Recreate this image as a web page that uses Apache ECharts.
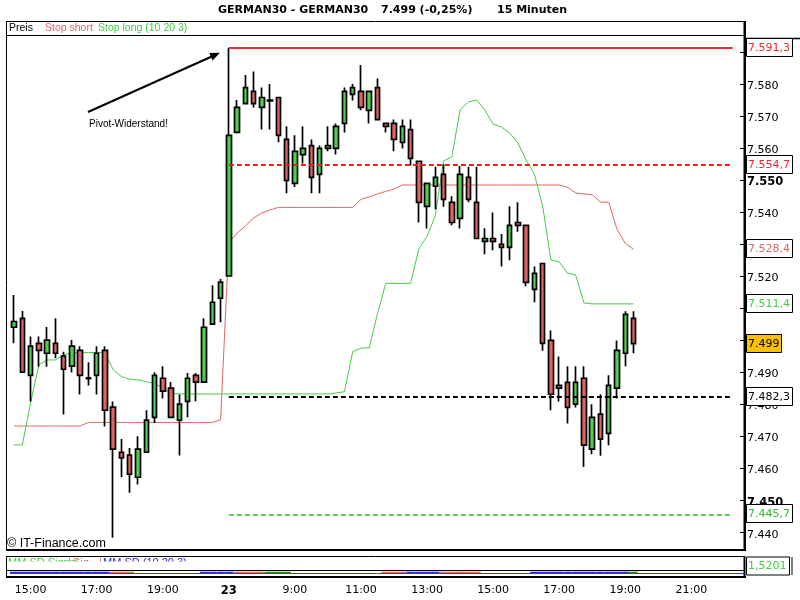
<!DOCTYPE html>
<html><head><meta charset="utf-8">
<script src="https://cdn.jsdelivr.net/npm/echarts@6/dist/echarts.min.js"></script>
<style>html,body{margin:0;padding:0;background:#fff}#c{width:800px;height:600px}</style>
</head><body><div id="c"></div>
<script>
// ---------- DATA ----------
const day22Times = ['14:30','14:45','15:00','15:15','15:30','15:45','16:00','16:15','16:30','16:45','17:00','17:15','17:30','17:45','18:00','18:15','18:30','18:45','19:00','19:15','19:30','19:45','20:00','20:15','20:30','20:45'];
const day23Times = ['07:00','07:15','07:30','07:45','08:00','08:15','08:30','08:45','09:00','09:15','09:30','09:45','10:00','10:15','10:30','10:45','11:00','11:15','11:30','11:45','12:00','12:15','12:30','12:45','13:00','13:15','13:30','13:45','14:00','14:15','14:30','14:45','15:00','15:15','15:30','15:45','16:00','16:15','16:30','16:45','17:00','17:15','17:30','17:45','18:00','18:15','18:30','18:45','19:00','19:15','19:30','19:45','20:00','20:15','20:30','20:45','21:00','21:15','21:30','21:45','22:00','22:15','22:30'];
const times = day22Times.map(t => '22 ' + t).concat(day23Times.map(t => '23 ' + t));

const xTickCats   = ['22 15:00','22 17:00','22 19:00','23 07:00','23 09:00','23 11:00','23 13:00','23 15:00','23 17:00','23 19:00','23 21:00'];
const xTickLabels = ['15:00','17:00','19:00','23','9:00','11:00','13:00','15:00','17:00','19:00','21:00'];
const yTicks = [7440,7450,7460,7470,7480,7490,7500,7510,7520,7530,7540,7550,7560,7570,7580,7590];
const yBoldTicks = [7450,7550];

const open  = [7504.1,7506.9,7489.1,7499.1,7496.0,7499.1,7495.1,7492.0,7496.9,7488.3,7489.1,7496.9,7479.2,7465.1,7464.2,7457.3,7465.1,7476.0,7488.2,7485.1,7475.1,7481.0,7489.1,7487.0,7505.1,7513.2,
               7520.1,7564.9,7573.9,7577.7,7572.7,7575.0,7575.8,7562.7,7549.0,7558.0,7560.8,7551.8,7559.9,7559.9,7567.7,7576.8,7577.7,7571.8,7578.9,7567.7,7567.7,7561.8,7565.8,7555.9,
               7541.8,7548.1,7551.8,7543.1,7538.1,7550.9,7543.1,7530.9,7531.8,7530.0,7529.0,7536.8,7535.9,7515.9,7524.0,7500.0,7485.1,7486.9,7480.1,7488.2,7466.1,7477.0,7471.0,7485.1,7496.0,7506.9];
const close = [7505.9,7490.1,7498.2,7496.9,7500.1,7496.0,7491.0,7498.2,7489.1,7488.1,7496.0,7478.2,7466.1,7463.3,7458.3,7466.1,7475.1,7489.1,7484.2,7476.0,7480.1,7488.2,7487.0,7504.1,7511.9,7518.2,
               7564.0,7572.7,7578.9,7573.9,7575.8,7574.7,7564.0,7549.9,7559.0,7559.9,7550.9,7559.9,7560.8,7566.8,7577.7,7578.9,7572.7,7577.7,7568.9,7566.8,7562.7,7566.8,7556.8,7543.1,
               7549.0,7550.9,7544.0,7536.8,7551.8,7544.0,7531.8,7531.8,7530.9,7529.0,7535.9,7535.9,7518.1,7520.9,7499.1,7483.2,7486.0,7479.1,7486.9,7467.3,7476.0,7469.2,7486.0,7496.9,7508.1,7499.0];
const low   = [7499.1,7489.8,7480.9,7491.8,7491.8,7494.4,7476.9,7490.0,7483.1,7485.9,7483.1,7473.1,7438.4,7457.3,7452.5,7455.0,7465.1,7474.2,7481.9,7476.0,7464.1,7476.0,7481.0,7487.0,7505.1,7505.7,
               7520.1,7564.9,7573.9,7572.7,7565.8,7565.8,7561.8,7545.9,7547.9,7555.2,7545.9,7545.9,7559.0,7558.0,7564.9,7574.9,7571.8,7567.7,7568.9,7564.9,7559.0,7559.9,7554.6,7536.8,
               7534.9,7540.9,7541.7,7535.9,7534.9,7543.1,7531.8,7526.9,7528.1,7523.1,7525.0,7533.9,7516.9,7511.9,7496.8,7478.2,7480.9,7474.1,7479.1,7460.5,7464.5,7464.0,7467.3,7481.9,7491.9,7496.0];
const high  = [7514.2,7509.2,7501.2,7501.2,7504.2,7506.9,7496.5,7500.1,7498.2,7493.2,7498.2,7498.2,7480.9,7469.2,7466.4,7470.1,7478.2,7490.1,7491.9,7487.0,7483.1,7489.8,7489.8,7506.9,7517.2,7519.2,
               7591.3,7575.0,7582.8,7583.9,7578.9,7580.0,7575.8,7566.8,7564.0,7566.8,7562.7,7560.8,7566.8,7567.7,7578.9,7580.0,7585.9,7577.7,7581.7,7567.7,7568.9,7568.9,7568.9,7556.0,
               7549.0,7554.2,7555.0,7545.0,7554.4,7554.2,7554.2,7535.0,7539.9,7533.2,7541.9,7543.1,7535.9,7523.1,7524.0,7503.1,7495.0,7491.9,7491.9,7491.9,7480.1,7483.2,7489.1,7500.0,7509.1,7509.1];

const stopShort = [7473.3,7473.3,7473.3,7473.3,7473.3,7473.3,7473.3,7473.3,7473.3,7474.4,7474.4,7474.4,7474.4,7474.4,7474.4,7474.4,7474.4,7474.4,7474.4,7474.4,7474.4,7474.4,7474.4,7474.4,7474.4,7475.2,
                   7530.4,7533.5,7535.7,7538.2,7539.8,7540.7,7541.5,7541.5,7541.5,7541.5,7541.5,7541.5,7541.5,7541.5,7541.5,7541.5,7544.0,7544.8,7545.7,7546.5,7547.2,7548.5,7548.5,7548.5,
                   7548.5,7548.5,7548.5,7548.5,7548.5,7548.5,7548.5,7548.5,7548.5,7548.5,7548.5,7548.5,7548.5,7548.5,7548.5,7548.5,7548.5,7547.8,7546.0,7545.7,7545.5,7543.2,7543.1,7534.7,7530.3,7528.4];
const stopLong  = [7467.4,7467.4,7480.6,7492.4,7493.9,7493.9,7495.5,7496.2,7496.2,7496.2,7496.2,7496.2,7490.8,7488.7,7487.9,7487.7,7487.1,7486.6,7485.1,7483.5,7483.3,7483.3,7483.3,7483.3,7483.3,7483.3,
                   7483.3,7483.3,7483.3,7483.3,7483.3,7483.3,7483.3,7483.3,7483.3,7483.3,7483.3,7483.3,7483.3,7483.6,7484.0,7496.5,7497.6,7497.7,7508.4,7517.8,7517.8,7517.8,7517.8,7528.5,
                   7532.5,7538.9,7556.0,7557.3,7571.9,7574.4,7575.0,7571.9,7567.5,7566.6,7564.7,7561.6,7556.3,7551.9,7541.9,7525.1,7524.5,7521.0,7520.4,7511.7,7511.4,7511.4,7511.4,7511.4,7511.4,7511.4];

// MM.SD signal state per candle: b = blue, r = red, g = green, null = none
const sdState = ['b','b','b','b','b','b','b','b','b','b','b','b','r','r','r',null,null,null,null,null,null,null,null,'b','b','b',
                 'b','r','r','r','r','g','g','g',null,null,null,null,null,null,null,null,null,null,null,'r','r','r','b','b',
                 'b','b','r','r','r','r','r',null,null,null,null,null,null,'b','b','b','b','b','b','b','b','b','b','b','b','g'];
const sdValue = 1.5201;

const levelValues = [7591.3, 7554.7, 7482.3, 7445.7];
const levelStartCat = '23 07:00';
const levelEndCat = '23 22:15';
const lastPrice = 7499;

// ---------- STYLE ----------
const F = 'DejaVu Sans';
const A = 'Liberation Sans';
const GREEN = '#4fcf4f', RED = '#e06464';
const levelStyles = [
  {color:'#ec2a2a', type:'solid', width:2, label:'#ec2a2a'},
  {color:'#f01c1c', type:[5,3], width:2, label:'#ec2a2a'},
  {color:'#000000', type:[5,3], width:2, label:'#000000'},
  {color:'#2fb52f', type:[5,3], width:1.5, label:'#33bb33'}
];

function fmtDE(v, d) {
  const parts = v.toFixed(d).split('.');
  const i = parts[0];
  return i.slice(0, -3) + '.' + i.slice(-3) + (parts[1] ? ',' + parts[1] : '');
}

const chart = echarts.init(document.getElementById('c'));
const candleData = open.map((o, i) => [o, close[i], low[i], high[i]]);

const option = {
  animation: false,
  backgroundColor: '#fff',
  grid: [
    {left: 10, right: 55, top: 35, bottom: 50},
    {left: 10, right: 55, top: 556, height: 21}
  ],
  xAxis: [
    {type:'category', gridIndex:0, data: times, boundaryGap:true,
     axisLine:{show:false}, axisTick:{show:false}, axisLabel:{show:false}, splitLine:{show:false}},
    {type:'category', gridIndex:1, data: times, boundaryGap:true,
     axisLine:{show:false}, axisTick:{show:false}, splitLine:{show:false},
     axisLabel:{
       show:true, margin:8, fontFamily:F, fontSize:11, color:'#000',
       interval: (idx, val) => xTickCats.indexOf(val) >= 0,
       formatter: (val) => {
         const k = xTickCats.indexOf(val);
         if (k < 0) return '';
         return xTickLabels[k] === '23' ? '{b|23}' : xTickLabels[k];
       },
       rich: {b: {fontFamily:F, fontSize:11.5, fontWeight:'bold', color:'#000'}}
     }}
  ],
  yAxis: [
    {type:'value', gridIndex:0, position:'right', min:7434.6, max:7595.3, scale:true,
     axisLine:{show:false}, splitLine:{show:false},
     axisTick:{show:true, inside:true, length:5, lineStyle:{color:'#000', width:1}, customValues: yTicks},
     axisLabel:{show:true, margin:2, fontFamily:F, fontSize:11, color:'#000', padding:[4,0,0,0],
       customValues: yTicks,
       formatter: v => yBoldTicks.indexOf(Math.round(v)) >= 0 ? '{b|' + fmtDE(v, 0) + '}' : fmtDE(v, 0),
       rich: {b: {fontFamily:F, fontSize:11.5, fontWeight:'bold', color:'#000'}}}
    },
    {type:'value', gridIndex:1, min:-4, max:17, show:false}
  ],
  series: [
    {name:'Stop short', type:'line', xAxisIndex:0, yAxisIndex:0, data: stopShort, symbol:'none', z:1,
     lineStyle:{color:'#e06666', width:1}},
    {name:'Stop long', type:'line', xAxisIndex:0, yAxisIndex:0, data: stopLong, symbol:'none', z:1,
     lineStyle:{color:'#44cc44', width:1}},
    {name:'Preis', type:'candlestick', xAxisIndex:0, yAxisIndex:0, data: candleData, barWidth:5, z:2,
     itemStyle:{color:GREEN, color0:RED, borderColor:'#000', borderColor0:'#000', borderColorDoji:'#000', borderWidth:1.7}},
    {name:'levels', type:'line', xAxisIndex:0, yAxisIndex:0, data: times.map(() => null), symbol:'none', z:5,
     markLine:{silent:true, symbol:['none','none'], label:{show:false}, animation:false,
       data: levelValues.map((v, k) => [
         {coord:[levelStartCat, v], lineStyle:{color:levelStyles[k].color, type:levelStyles[k].type, width:levelStyles[k].width}},
         {coord:[levelEndCat, v]}
       ])}},
    {name:'sdBlue', type:'bar', xAxisIndex:1, yAxisIndex:1, barWidth:'100%', barGap:'-100%', z:2,
     data: sdState.map(s => s === 'b' ? 1.3 : null), itemStyle:{color:'#2a2ad6'},
     markLine:{silent:true, symbol:['none','none'], label:{show:false}, data:[{yAxis:0}], lineStyle:{color:'#3a3ad0', width:1, type:'solid'}}},
    {name:'sdRed', type:'bar', xAxisIndex:1, yAxisIndex:1, barWidth:'100%', barGap:'-100%', z:2,
     data: sdState.map(s => s === 'r' ? 1.3 : null), itemStyle:{color:'#e06666'}},
    {name:'sdGreen', type:'bar', xAxisIndex:1, yAxisIndex:1, barWidth:'100%', barGap:'-100%', z:2,
     data: sdState.map(s => s === 'g' ? 1.3 : null), itemStyle:{color:'#1f8f1f'}}
  ]
};
chart.setOption(option);

// ---------- overlays (positions derived through the axis scale) ----------
const yPix = v => chart.convertToPixel({yAxisIndex:0}, v);
const g = [];
function line(x1, y1, x2, y2, w, c, z) {
  g.push({type:'line', shape:{x1, y1, x2, y2}, style:{stroke:c || '#000', lineWidth:w}, z: z || 60, silent:true});
}
function text(x, y, t, font, fill, z, align, valign) {
  g.push({type:'text', x, y, style:{text:t, font, fill, align: align || 'left', verticalAlign: valign || 'middle'}, z: z || 70, silent:true});
}
// title
text(218, 10, 'GERMAN30 - GERMAN30', 'bold 11px "' + F + '"', '#000');
text(381, 10, fmtDE(lastPrice, 0) + ' (-0,25%)', 'bold 11px "' + F + '"', '#000');
text(497, 10, '15 Minuten', 'bold 11px "' + F + '"', '#000');
// legend
text(9, 28.5, 'Preis', '10.5px "' + A + '"', '#000');
text(45, 28.5, 'Stop short', '10.5px "' + A + '"', '#e06666');
text(98, 28.5, 'Stop long (10 20 3)', '10.5px "' + A + '"', '#44cc44');
// frames
line(6, 21.5, 745, 21.5, 1);
line(6, 35.5, 744, 35.5, 1);
line(6.5, 21, 6.5, 550, 1);
g.push({type:'rect', shape:{x:743.5, y:21, width:2.5, height:530}, style:{fill:'#000'}, z:60, silent:true});
line(745, 38.5, 800, 38.5, 1.3);
g.push({type:'rect', shape:{x:6, y:549, width:740, height:2}, style:{fill:'#000'}, z:60, silent:true});
// indicator panel frame
line(6, 556.5, 745, 556.5, 1);
line(6.5, 556, 6.5, 578, 1);
line(6, 570.5, 744, 570.5, 1);
g.push({type:'rect', shape:{x:6, y:576, width:740, height:2}, style:{fill:'#000'}, z:60, silent:true});
g.push({type:'rect', shape:{x:743.5, y:556, width:2, height:22}, style:{fill:'#000'}, z:60, silent:true});
// indicator legend (clipped)
text(8, 557, 'MM.SD Signal', '11px "' + A + '"', '#44cc44', 40, 'left', 'top');
text(68, 557, '|', '11px "' + A + '"', '#e06666', 40, 'left', 'top');
text(73, 557, 'Sig', '11px "' + A + '"', '#e06666', 40, 'left', 'top');
text(99, 557, '|', '11px "' + A + '"', '#e06666', 40, 'left', 'top');
text(103, 557, 'MM.SD (10 20 3)', '11px "' + A + '"', '#2a2ad6', 40, 'left', 'top');
g.push({type:'rect', shape:{x:7, y:561.5, width:700, height:8.5}, style:{fill:'#fff'}, z:45, silent:true});
// annotation arrow
line(88, 112, 214, 55.5, 2, '#000', 65);
g.push({type:'polygon', shape:{points:[[220,52.7],[212.5,60.4],[209.3,53.1]]}, style:{fill:'#000'}, z:65, silent:true});
text(89, 124.5, 'Pivot-Widerstand!', '10px "' + A + '"', '#000');
// copyright
text(7, 543.5, '\u00A9 IT-Finance.com', '12.5px "' + A + '"', '#000');

// price boxes
function box(v, label, color, fill, w) {
  const yc = Math.round(yPix(v));
  g.push({type:'rect', shape:{x:746.5, y:yc - 9.5, width:w || 46, height:18}, style:{fill: fill || '#fff', stroke:'#000', lineWidth:1}, z:100, silent:true});
  text(748, yc + 0.5, label, '11px "' + F + '"', color, 101);
}
box(levelValues[0], fmtDE(levelValues[0], 1), levelStyles[0].label);
box(levelValues[1], fmtDE(levelValues[1], 1), levelStyles[1].label);
box(stopShort[stopShort.length - 1], fmtDE(stopShort[stopShort.length - 1], 1), '#e06666');
box(stopLong[stopLong.length - 1], fmtDE(stopLong[stopLong.length - 1], 1), '#44cc44');
box(lastPrice, fmtDE(lastPrice, 0), '#000', '#ffc000', 35);
box(levelValues[2], fmtDE(levelValues[2], 1), levelStyles[2].label);
box(levelValues[3], fmtDE(levelValues[3], 1), levelStyles[3].label);
// indicator value box
g.push({type:'rect', shape:{x:746.5, y:557, width:43, height:18}, style:{fill:'#fff', stroke:'#000', lineWidth:1}, z:100, silent:true});
line(792, 557, 792, 575, 1, '#000', 100);
text(748, 566.5, sdValue.toFixed(4).replace('.', ','), '11px "' + F + '"', '#44cc44', 101);

chart.setOption({graphic: g});
</script>
</body></html>
